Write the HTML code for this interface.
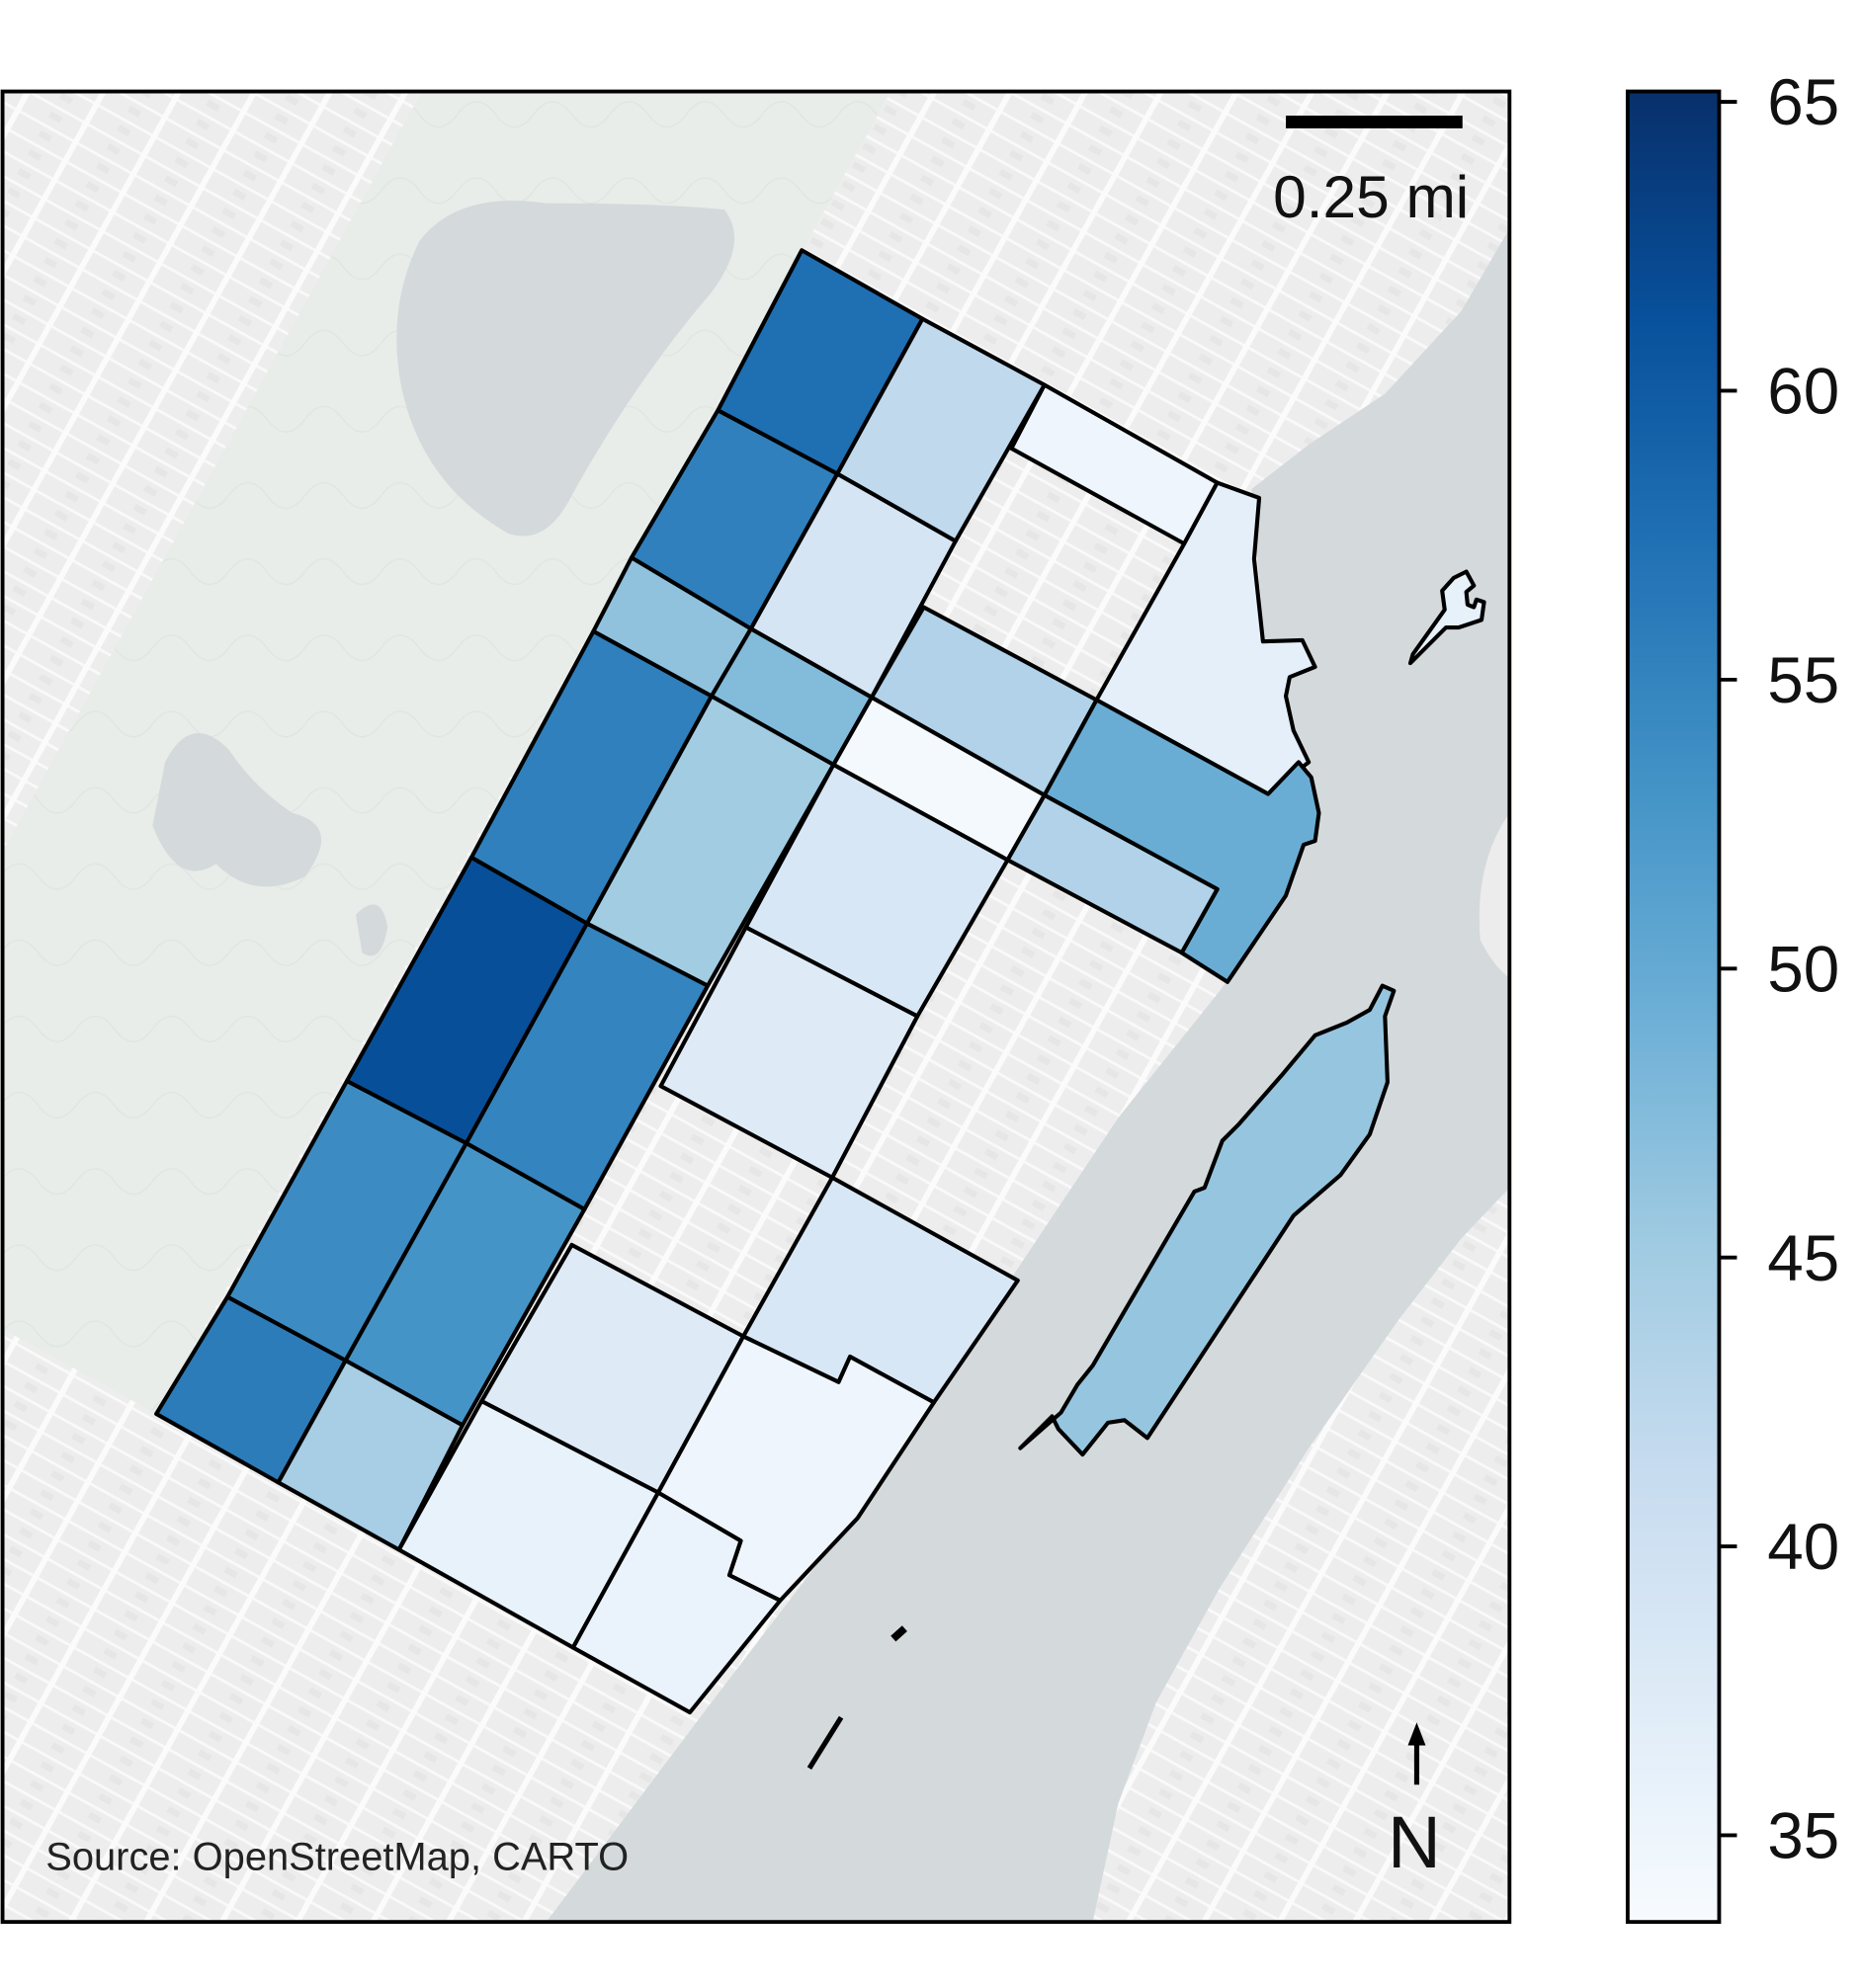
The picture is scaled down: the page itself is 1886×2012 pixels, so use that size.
<!DOCTYPE html>
<html><head><meta charset="utf-8">
<style>
html,body{margin:0;padding:0;background:#fff;}
svg{display:block;font-family:"Liberation Sans",sans-serif;}
</style></head>
<body>
<svg id="fig" width="1886" height="2012" viewBox="0 0 1467 1565" xmlns="http://www.w3.org/2000/svg">
<defs>
<pattern id="grid" width="52" height="17" patternUnits="userSpaceOnUse" patternTransform="rotate(29)">
<rect width="52" height="17" fill="#ededed"/>
<rect x="0" y="0" width="52" height="2.2" fill="#f9f9f9"/>
<rect x="0" y="0" width="4.5" height="17" fill="#fbfbfb"/>
<rect x="26" y="6" width="10" height="5" fill="#e6e6e6"/>
</pattern>
<pattern id="parkp" width="60" height="60" patternUnits="userSpaceOnUse">
<rect width="60" height="60" fill="#e8ede9"/>
<path d="M0 30 Q15 10 30 30 T60 30" stroke="#dfe5e1" stroke-width="1" fill="none"/>
</pattern>
<linearGradient id="cbgrad" x1="0" y1="1" x2="0" y2="0"></linearGradient>
<clipPath id="mapclip"><rect x="2" y="72" width="1186" height="1441"/></clipPath>
</defs>
<g id="basemap" clip-path="url(#mapclip)">
<rect x="2" y="72" width="1186" height="1441" fill="url(#grid)"/>
<polygon points="332,72 701,72 123,1113 0,1045 0,674" fill="url(#parkp)"/>
<path d="M330 190 Q360 150 430 160 Q520 160 570 165 Q590 190 560 230 Q500 300 450 390 Q430 430 400 420 Q330 380 315 300 Q305 240 330 190Z" fill="#d4d9dc"/>
<path d="M130 600 Q150 560 180 590 Q200 620 230 640 Q270 650 240 690 Q200 710 170 680 Q140 700 120 650Z" fill="#d4d9dc"/>
<path d="M280 720 Q300 700 305 730 Q300 760 285 750Z" fill="#d4d9dc"/>
<polygon points="1188,180 1150,245 1090,310 1030,350 985,385 995,505 1035,620 1012,705 960,780 880,880 800,1000 690,1170 560,1340 430,1513 860,1513 880,1420 910,1340 960,1250 1030,1140 1100,1040 1150,975 1188,935" fill="#d4d9dc"/>
<path d="M1188 640 Q1160 680 1165 740 Q1175 760 1188 770Z" fill="#ececec"/>
</g>
<g id="tracts" stroke="#000" stroke-width="3.2" stroke-linejoin="round"></g>
<path d="M703 1290 L712 1282" stroke="#000" stroke-width="6"/>
<path d="M637 1392 L662 1352" stroke="#000" stroke-width="4"/>
<rect x="2" y="72" width="1186" height="1441" fill="none" stroke="#000" stroke-width="3"/>
<line x1="1012" y1="96" x2="1151" y2="96" stroke="#000" stroke-width="10"/>
<text x="1079" y="171" font-size="47" text-anchor="middle" fill="#111">0.25 mi</text>
<line x1="1115" y1="1405" x2="1115" y2="1372" stroke="#000" stroke-width="4"/>
<polygon points="1115,1356 1108,1374 1122,1374" fill="#000"/>
<text x="1113" y="1470" font-size="58" text-anchor="middle" fill="#111">N</text>
<text x="36" y="1472" font-size="31" fill="#222">Source: OpenStreetMap, CARTO</text>
<g id="colorbar"></g>
</svg>
<script>
const tractNames = ["A1","A2","A3","A4","A5","A6","A7","B1","B2","B3","B4","B5","B6","B7","C1","C3","C4","C5","C6","C7","D1","C8","D2","D3","E1","E2","E3","island","islet"];
const tractValues = [57.5,55.5,46.5,55.5,61.5,54,56,42,39,47.5,45,55,53,44.5,35,43.5,34,38.5,37.5,38.5,37.5,35,35.8,35.5,36.5,49.5,43.5,46,36];
const cbTicks = [35,40,45,50,55,60,65];
const vmin = 33.5, vmax = 65.18;
const shapes = {
A1:"631,197 726,251 659,373 565,323",
A2:"565,323 659,373 591,495 497,439",
A3:"497,439 591,495 560,548 467,497",
A4:"467,497 560,548 462,727 371,675",
A5:"371,675 462,727 367,900 273,851",
A6:"273,851 367,900 272,1071 179,1021",
A7:"179,1021 272,1071 219,1167 123,1113",
B1:"726,251 822,303 752,426 659,373",
B2:"659,373 752,426 686,549 591,495",
B3:"591,495 686,549 656,602 560,548",
B4:"560,548 656,602 557,776 462,727",
B5:"462,727 557,776 460,952 367,900",
B6:"367,900 460,952 364,1122 272,1071",
B7:"272,1071 364,1122 314,1220 219,1167",
C1:"822,303 958,380 932,428 796,353",
C3:"727,478 863,551 822,626 686,549",
C4:"686,549 822,626 793,677 656,602",
C5:"656,602 793,677 722,800 587,730",
C6:"587,730 722,800 655,927 520,855",
C7:"655,927 801,1008 735,1104 669,1068 660,1088 585,1052",
D1:"450,980 585,1052 518,1175 379,1103",
C8:"585,1052 660,1088 669,1068 735,1104 675,1195 614,1260 574,1240 583,1213 518,1175",
D2:"379,1103 518,1175 451,1297 314,1220",
D3:"518,1175 583,1213 574,1240 614,1260 543,1348 451,1297",
E1:"958,380 991,392 987,440 994,505 1025,504 1035,525 1015,533 1012,548 1018,575 1030,600 998,625 863,551 932,428",
E2:"863,551 998,625 1022,600 1032,612 1038,640 1035,662 1026,665 1012,705 966,773 930,750 958,700 822,626",
E3:"822,626 958,700 930,750 793,677",
island:"803,1140 828,1115 833,1125 852,1145 872,1120 885,1118 903,1132 1018,957 1055,925 1078,893 1092,852 1090,800 1097,780 1088,776 1078,795 1060,805 1035,815 1010,845 975,885 962,898 948,935 940,938 860,1075 848,1090 835,1112",
islet:"1110,522 1138,494 1148,494 1166,488 1168,474 1162,472 1160,478 1155,476 1154,466 1160,461 1154,450 1144,455 1135,465 1137,480 1112,515"
};
const blues = ["#f7fbff","#deebf7","#c6dbef","#9ecae1","#6baed6","#4292c6","#2171b5","#08519c","#08306b"];
function hex(c){return [1,3,5].map(i=>parseInt(c.substr(i,2),16));}
function colorOf(v){
  let t=Math.max(0,Math.min(1,(v-vmin)/(vmax-vmin)))*(blues.length-1);
  let i=Math.min(blues.length-2,Math.floor(t)), f=t-i;
  let a=hex(blues[i]), b=hex(blues[i+1]);
  return "rgb("+a.map((x,k)=>Math.round(x+(b[k]-x)*f)).join(",")+")";
}
const NS="http://www.w3.org/2000/svg";
const g=document.getElementById("tracts");
tractNames.forEach((n,i)=>{
  const p=document.createElementNS(NS,"polygon");
  p.setAttribute("points",shapes[n]);
  p.setAttribute("fill",colorOf(tractValues[i]));
  
  
  g.appendChild(p);
});
const cbX=1281, cbW=72, cbTop=72, cbBot=1513;
function yOf(v){return cbBot-(v-vmin)/(vmax-vmin)*(cbBot-cbTop);}
const grad=document.getElementById("cbgrad");
blues.forEach((c,i)=>{const s=document.createElementNS(NS,"stop");s.setAttribute("offset",i/(blues.length-1));s.setAttribute("stop-color",c);grad.appendChild(s);});
const cb=document.getElementById("colorbar");
const r=document.createElementNS(NS,"rect");
r.setAttribute("x",cbX);r.setAttribute("y",cbTop);r.setAttribute("width",cbW);r.setAttribute("height",cbBot-cbTop);
r.setAttribute("fill","url(#cbgrad)");r.setAttribute("stroke","#000");r.setAttribute("stroke-width","3");


cb.appendChild(r);
cbTicks.forEach(v=>{
  const y=yOf(v);
  const l=document.createElementNS(NS,"line");
  l.setAttribute("x1",cbX+cbW);l.setAttribute("x2",cbX+cbW+14);l.setAttribute("y1",y);l.setAttribute("y2",y);
  l.setAttribute("stroke","#000");l.setAttribute("stroke-width","3");
  
  
  cb.appendChild(l);
  const t=document.createElementNS(NS,"text");
  t.setAttribute("x",cbX+cbW+38);t.setAttribute("y",y+18);t.setAttribute("font-size","51");t.setAttribute("fill","#111");
  t.textContent=v;
  
  
  cb.appendChild(t);
});
</script>
</body></html>
